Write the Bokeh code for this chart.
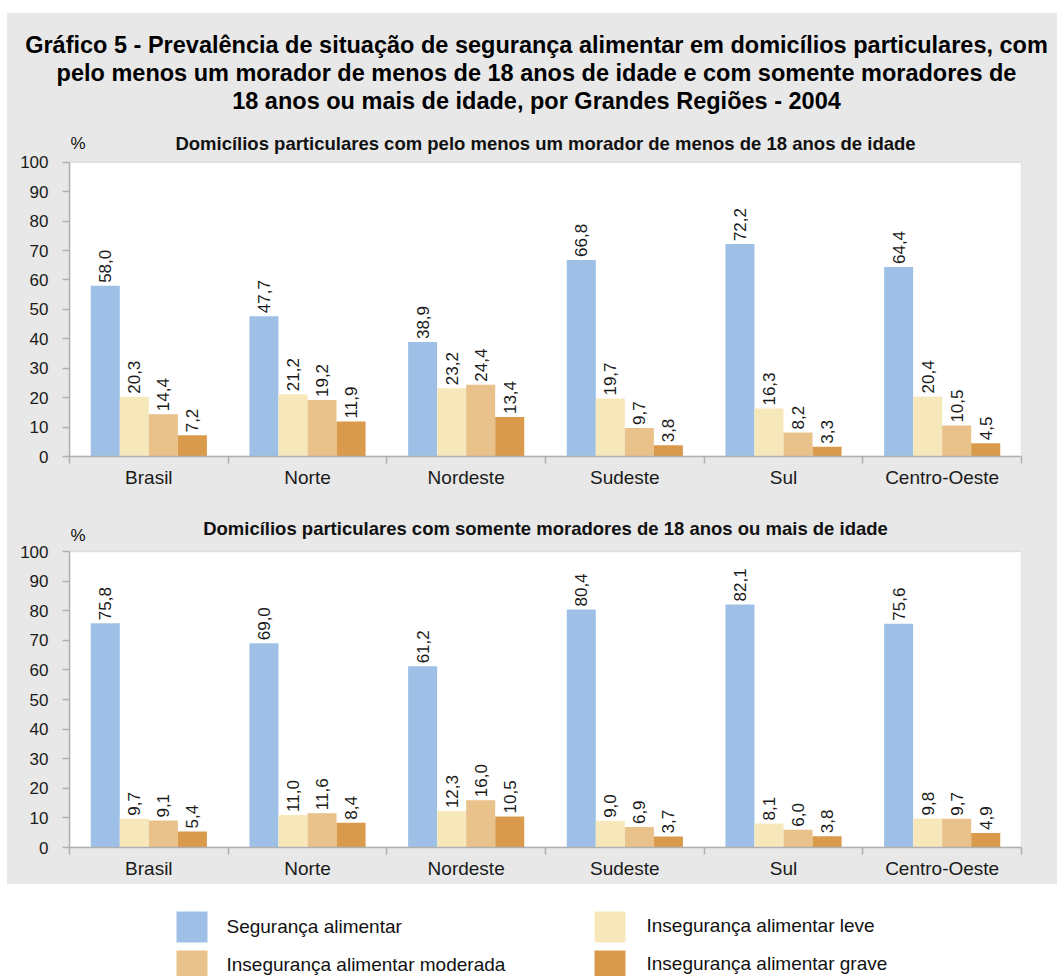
import numpy as np
from bokeh.plotting import figure
from bokeh.models import Range1d, FixedTicker, ColumnDataSource, Spacer, BoxAnnotation
from bokeh.layouts import column, row
from bokeh.embed import file_html
from bokeh.resources import INLINE
from bokeh.core.properties import value

# ---------------- data ----------------
regions = ["Brasil", "Norte", "Nordeste", "Sudeste", "Sul", "Centro-Oeste"]
series = ["Segurança alimentar", "Insegurança alimentar leve",
          "Insegurança alimentar moderada", "Insegurança alimentar grave"]
colors = ["#9fc0e6", "#f7e8bc", "#e9c18a", "#da9a4b"]

# Domicílios com pelo menos um morador de menos de 18 anos
menores_seguranca = [58.0, 47.7, 38.9, 66.8, 72.2, 64.4]
menores_leve = [20.3, 21.2, 23.2, 19.7, 16.3, 20.4]
menores_moderada = [14.4, 19.2, 24.4, 9.7, 8.2, 10.5]
menores_grave = [7.2, 11.9, 13.4, 3.8, 3.3, 4.5]

# Domicílios com somente moradores de 18 anos ou mais
adultos_seguranca = [75.8, 69.0, 61.2, 80.4, 82.1, 75.6]
adultos_leve = [9.7, 11.0, 12.3, 9.0, 8.1, 9.8]
adultos_moderada = [9.1, 11.6, 16.0, 6.9, 6.0, 9.7]
adultos_grave = [5.4, 8.4, 10.5, 3.7, 3.8, 4.9]

y_ticks = [0, 10, 20, 30, 40, 50, 60, 70, 80, 90, 100]

title_lines = [
    "Gráfico 5 - Prevalência de situação de segurança alimentar em domicílios particulares, com",
    "pelo menos um morador de menos de 18 anos de idade e com somente moradores de",
    "18 anos ou mais de idade, por Grandes Regiões - 2004",
]
sub1 = "Domicílios particulares com pelo menos um morador de menos de 18 anos de idade"
sub2 = "Domicílios particulares com somente moradores de 18 anos ou mais de idade"

FONT = "Liberation Sans"
GRAY_BG = "#e8e8e8"
AXIS_GRAY = "#b0b0b0"
W = 1050
LEFT = 62
RIGHT = 36
BAR_W = 0.183
PX_PER_UNIT = 2.96  # vertical pixels per percentage point in both panels


def fmt(v):
    return f"{v:.1f}".replace(".", ",")


def make_panel(data, subtitle, frame_h, top, bottom, sub_px, pct_px):
    """frame_h: frame height in px; sub_px / pct_px: distance in px above the zero line."""
    y_top = frame_h / PX_PER_UNIT
    p = figure(width=W, height=frame_h + top + bottom, x_range=Range1d(0, 6),
               y_range=Range1d(0, y_top), output_backend="svg", toolbar_location=None,
               min_border_left=LEFT, min_border_right=RIGHT,
               min_border_top=top, min_border_bottom=bottom)
    p.border_fill_color = GRAY_BG
    p.background_fill_color = GRAY_BG
    p.background_fill_alpha = 0
    p.outline_line_color = None
    p.xgrid.visible = False
    p.ygrid.visible = False

    # white plotting area 0..100 with grey outline
    p.add_layout(BoxAnnotation(left=0, right=6, bottom=0, top=100, fill_color="white",
                               fill_alpha=1.0, line_color=AXIS_GRAY, line_width=1.5,
                               level="underlay"))

    idx = np.arange(len(regions))
    offsets = (np.arange(4) - 1.5) * BAR_W
    for k, vals in enumerate(data):
        xs = idx + 0.5 + offsets[k]
        src = ColumnDataSource(dict(x=xs, top=vals, lab=[fmt(v) for v in vals]))
        p.vbar(x="x", top="top", bottom=0, width=BAR_W, source=src,
               fill_color=colors[k], line_color=None)
        p.text(x="x", y="top", text="lab", source=src, angle=np.pi / 2,
               text_align="left", text_baseline="middle", y_offset=-3,
               text_font=value(FONT), text_font_size="17px", text_color="#1a1a1a")

    # subtitle and % sign
    p.text(x=[3.0], y=[sub_px / PX_PER_UNIT], text=[subtitle], text_font=value(FONT),
           text_font_size="18.5px", text_font_style="bold", text_align="center",
           text_baseline="middle", text_color="#111111")
    p.text(x=[0.006], y=[pct_px / PX_PER_UNIT], text=["%"], text_font=value(FONT),
           text_font_size="17px", text_align="left", text_baseline="middle",
           text_color="#111111")

    xa = p.xaxis[0]
    xa.ticker = FixedTicker(ticks=list(idx + 0.5), minor_ticks=list(range(len(regions) + 1)))
    xa.major_label_overrides = {float(i + 0.5): r for i, r in enumerate(regions)}
    xa.major_tick_out = 0
    xa.major_tick_in = 0
    xa.minor_tick_out = 7
    xa.minor_tick_in = 0
    xa.minor_tick_line_color = AXIS_GRAY
    xa.minor_tick_line_width = 1.5
    xa.axis_line_color = AXIS_GRAY
    xa.axis_line_width = 1.5
    xa.major_label_text_font = FONT
    xa.major_label_text_font_size = "19px"
    xa.major_label_text_color = "#1a1a1a"
    xa.major_label_standoff = 3

    ya = p.yaxis[0]
    ya.ticker = FixedTicker(ticks=y_ticks, minor_ticks=[])
    ya.bounds = (0, 100)
    ya.major_tick_out = 7
    ya.major_tick_in = 0
    ya.major_tick_line_color = AXIS_GRAY
    ya.major_tick_line_width = 1.5
    ya.axis_line_color = AXIS_GRAY
    ya.axis_line_width = 1.5
    ya.major_label_text_font = FONT
    ya.major_label_text_font_size = "17px"
    ya.major_label_text_color = "#1a1a1a"
    ya.major_label_standoff = 14
    return p


# header with the main title (pixel coordinates, y downwards)
HH = 112
header = figure(width=W, height=HH, x_range=Range1d(0, W), y_range=Range1d(HH, 0),
                output_backend="svg", toolbar_location=None,
                min_border_left=0, min_border_right=0, min_border_top=0, min_border_bottom=0)
header.axis.visible = False
header.grid.visible = False
header.outline_line_color = None
header.background_fill_color = GRAY_BG
header.background_fill_alpha = 0
header.border_fill_color = GRAY_BG
header.text(x=[529] * 3, y=[31, 59, 87], text=title_lines, text_font=value(FONT),
            text_font_size="23.5px", text_font_style="bold", text_align="center",
            text_baseline="middle", text_color="#000000")

p1 = make_panel([menores_seguranca, menores_leve, menores_moderada, menores_grave], sub1,
                frame_h=330, top=3, bottom=32, sub_px=315, pct_px=315)
p2 = make_panel([adultos_seguranca, adultos_leve, adultos_moderada, adultos_grave], sub2,
                frame_h=335, top=22, bottom=37, sub_px=319, pct_px=312)

# legend (pixel coordinates inside a frame aligned with the panels)
LH = 92
leg = figure(width=W, height=LH, x_range=Range1d(LEFT, W - RIGHT), y_range=Range1d(LH, 0),
             output_backend="svg", toolbar_location=None,
             min_border_left=LEFT, min_border_right=RIGHT, min_border_top=0, min_border_bottom=0)
leg.axis.visible = False
leg.grid.visible = False
leg.outline_line_color = None
leg.background_fill_color = "white"
leg.border_fill_color = "white"
leg_x = [169, 587, 169, 587]
leg_y = [42.5, 42.5, 79, 79]
leg_h = [31, 31, 26, 26]
leg_tx = [219, 639, 219, 639]
leg_ty = [42, 40.5, 80, 79]
lsrc = ColumnDataSource(dict(x=[v + 15.5 for v in leg_x], y=leg_y, h=leg_h,
                             tx=leg_tx, ty=leg_ty, c=colors, t=series))
leg.rect(x="x", y="y", width=31, height="h", source=lsrc, fill_color="c", line_color=None)
leg.text(x="tx", y="ty", text="t", source=lsrc, text_font=value(FONT), text_font_size="19px",
         text_align="left", text_baseline="middle", text_color="#111111")


def shifted(item, h):
    return row(Spacer(width=7, height=h), item, spacing=0)


# header wrapped in its own row so that its frame is not aligned with the panels
header_row = row(Spacer(width=0, height=HH), header, spacing=0)
gray_block = column(header_row, p1, p2, spacing=0, styles={"background-color": GRAY_BG})
layout = column(Spacer(width=1057, height=13),
                shifted(gray_block, header.height + p1.height + p2.height),
                shifted(leg, leg.height), spacing=0)
open("out.html", "w").write(file_html(layout, INLINE))
